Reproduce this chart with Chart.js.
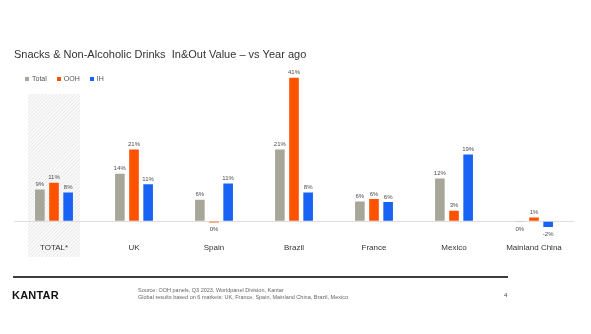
<!DOCTYPE html>
<html>
<head>
<meta charset="utf-8">
<script src="https://cdn.jsdelivr.net/npm/chart.js@4.4.0/dist/chart.umd.min.js"></script>
<style>
  body { margin: 0; background: #fff; font-family: "Liberation Sans", Arial, sans-serif; }
  .wrap { position: relative; width: 591px; height: 334px; }
  #myChart { position: absolute; left: 0; top: 0; }
  .legend { position: absolute; left: 25px; top: 75px; display: flex; font-size: 7px; color: #555; }
  .legend-item { display: flex; align-items: center; margin-right: 10px; }
  .legend-item i { display: inline-block; width: 4px; height: 4px; margin-right: 3px; }
  .rule { position: absolute; left: 13px; top: 276px; width: 495px; height: 2px; background: #3d3d3d; }
  .logo { position: absolute; left: 12px; top: 289px; font-size: 11px; font-weight: bold; color: #111; letter-spacing: 0.2px; }
  .source { position: absolute; left: 138px; top: 287px; font-size: 5.5px; line-height: 7px; color: #666; }
  .page { position: absolute; left: 504px; top: 292px; font-size: 6px; color: #444; }
</style>
</head>
<body>
<div class="wrap">
  <canvas id="myChart" width="591" height="334"></canvas>
  <div class="legend" id="legend"></div>
  <div class="rule"></div>
  <div class="logo">KANTAR</div>
  <div class="source">Source: OOH panels, Q3 2023, Worldpanel Division, Kantar<br>Global results based on 6 markets: UK, France, Spain, Mainland China, Brazil, Mexico</div>
  <div class="page">4</div>
</div>
<script>
const categories = ["TOTAL*", "UK", "Spain", "Brazil", "France", "Mexico", "Mainland China"]
const totalValues = [9.1, 13.6, 6.2, 20.5, 5.7, 12.2, -0.2]
const oohValues = [11.0, 20.5, -0.3, 41, 6.4, 3.0, 1.1]
const ihValues = [8.2, 10.6, 10.8, 8.2, 5.5, 19.1, -1.6]

// hatched band behind the TOTAL column
const hatchBand = {
  id: "hatchBand",
  beforeDraw(chart) {
    const ctx = chart.ctx
    const x = chart.scales.x.getPixelForValue(0)
    const left = x - 26, right = x + 26, top = 94, bottom = 257
    ctx.save()
    ctx.beginPath()
    ctx.rect(left, top, right - left, bottom - top)
    ctx.clip()
    ctx.fillStyle = "#fafafa"
    ctx.fillRect(left, top, right - left, bottom - top)
    ctx.strokeStyle = "#e2e2e2"
    ctx.lineWidth = 0.8
    for (let i = -200; i < 100; i += 3.5) {
      ctx.beginPath()
      ctx.moveTo(left + i, bottom)
      ctx.lineTo(left + i + 200, bottom - 200)
      ctx.stroke()
    }
    ctx.restore()
  },
}

// value labels above / below the bars
const valueLabels = {
  id: "valueLabels",
  afterDatasetsDraw(chart) {
    const ctx = chart.ctx
    ctx.save()
    ctx.font = "6px 'Liberation Sans', Arial, sans-serif"
    ctx.fillStyle = "#4d4d4d"
    ctx.textAlign = "center"
    chart.data.datasets.forEach((ds, di) => {
      chart.getDatasetMeta(di).data.forEach((bar, i) => {
        const v = ds.data[i]
        const txt = Math.round(v) + "%"
        if (v < 0) {
          ctx.textBaseline = "middle"
          ctx.fillText(txt, bar.x, bar.y + 7)
        } else {
          ctx.textBaseline = "bottom"
          ctx.fillText(txt, bar.x, bar.y - 2)
        }
      })
    })
    ctx.restore()
  },
}

var ctx = document.getElementById("myChart").getContext("2d")
var myChart = new Chart(ctx, {
  type: "bar",
  data: {
    labels: categories,
    datasets: [
      { label: "Total", data: totalValues, backgroundColor: "#a7a698" },
      { label: "OOH", data: oohValues, backgroundColor: "#ff5200" },
      { label: "IH", data: ihValues, backgroundColor: "#1862f4" },
    ],
  },
  options: {
    responsive: false,
    animation: false,
    categoryPercentage: 0.53,
    barPercentage: 0.68,
    layout: { padding: { left: 14, right: 17, top: 0, bottom: 74 } },
    plugins: {
      title: {
        display: true,
        text: "Snacks & Non-Alcoholic Drinks  In&Out Value \u2013 vs Year ago",
        align: "start",
        color: "#333",
        font: { family: "'Liberation Sans', Arial, sans-serif", size: 11, weight: "normal" },
        padding: { top: 48, bottom: 5 },
      },
      legend: { display: false },
      tooltip: { enabled: false },
    },
    scales: {
      x: {
        grid: { display: false, drawTicks: false },
        border: { display: false },
        ticks: {
          color: "#333",
          padding: 7,
          font: { family: "'Liberation Sans', Arial, sans-serif", size: 8 },
        },
      },
      y: {
        display: true,
        min: -4.3,
        max: 44.3,
        border: { display: false },
        ticks: { display: false, stepSize: 50 },
        grid: {
          drawTicks: false,
          color: (c) => (c.tick.value === 0 ? "#dedede" : "rgba(0,0,0,0)"),
        },
        afterBuildTicks: (axis) => { axis.ticks = [{ value: 0 }] },
        afterFit: (axis) => { axis.width = 0 },
      },
    },
  },
  plugins: [hatchBand, valueLabels],
})

// legend built from the datasets
const legendEl = document.getElementById("legend")
myChart.data.datasets.forEach((ds) => {
  const item = document.createElement("span")
  item.className = "legend-item"
  item.innerHTML = '<i style="background:' + ds.backgroundColor + '"></i>' + ds.label
  legendEl.appendChild(item)
})
</script>
</body>
</html>
